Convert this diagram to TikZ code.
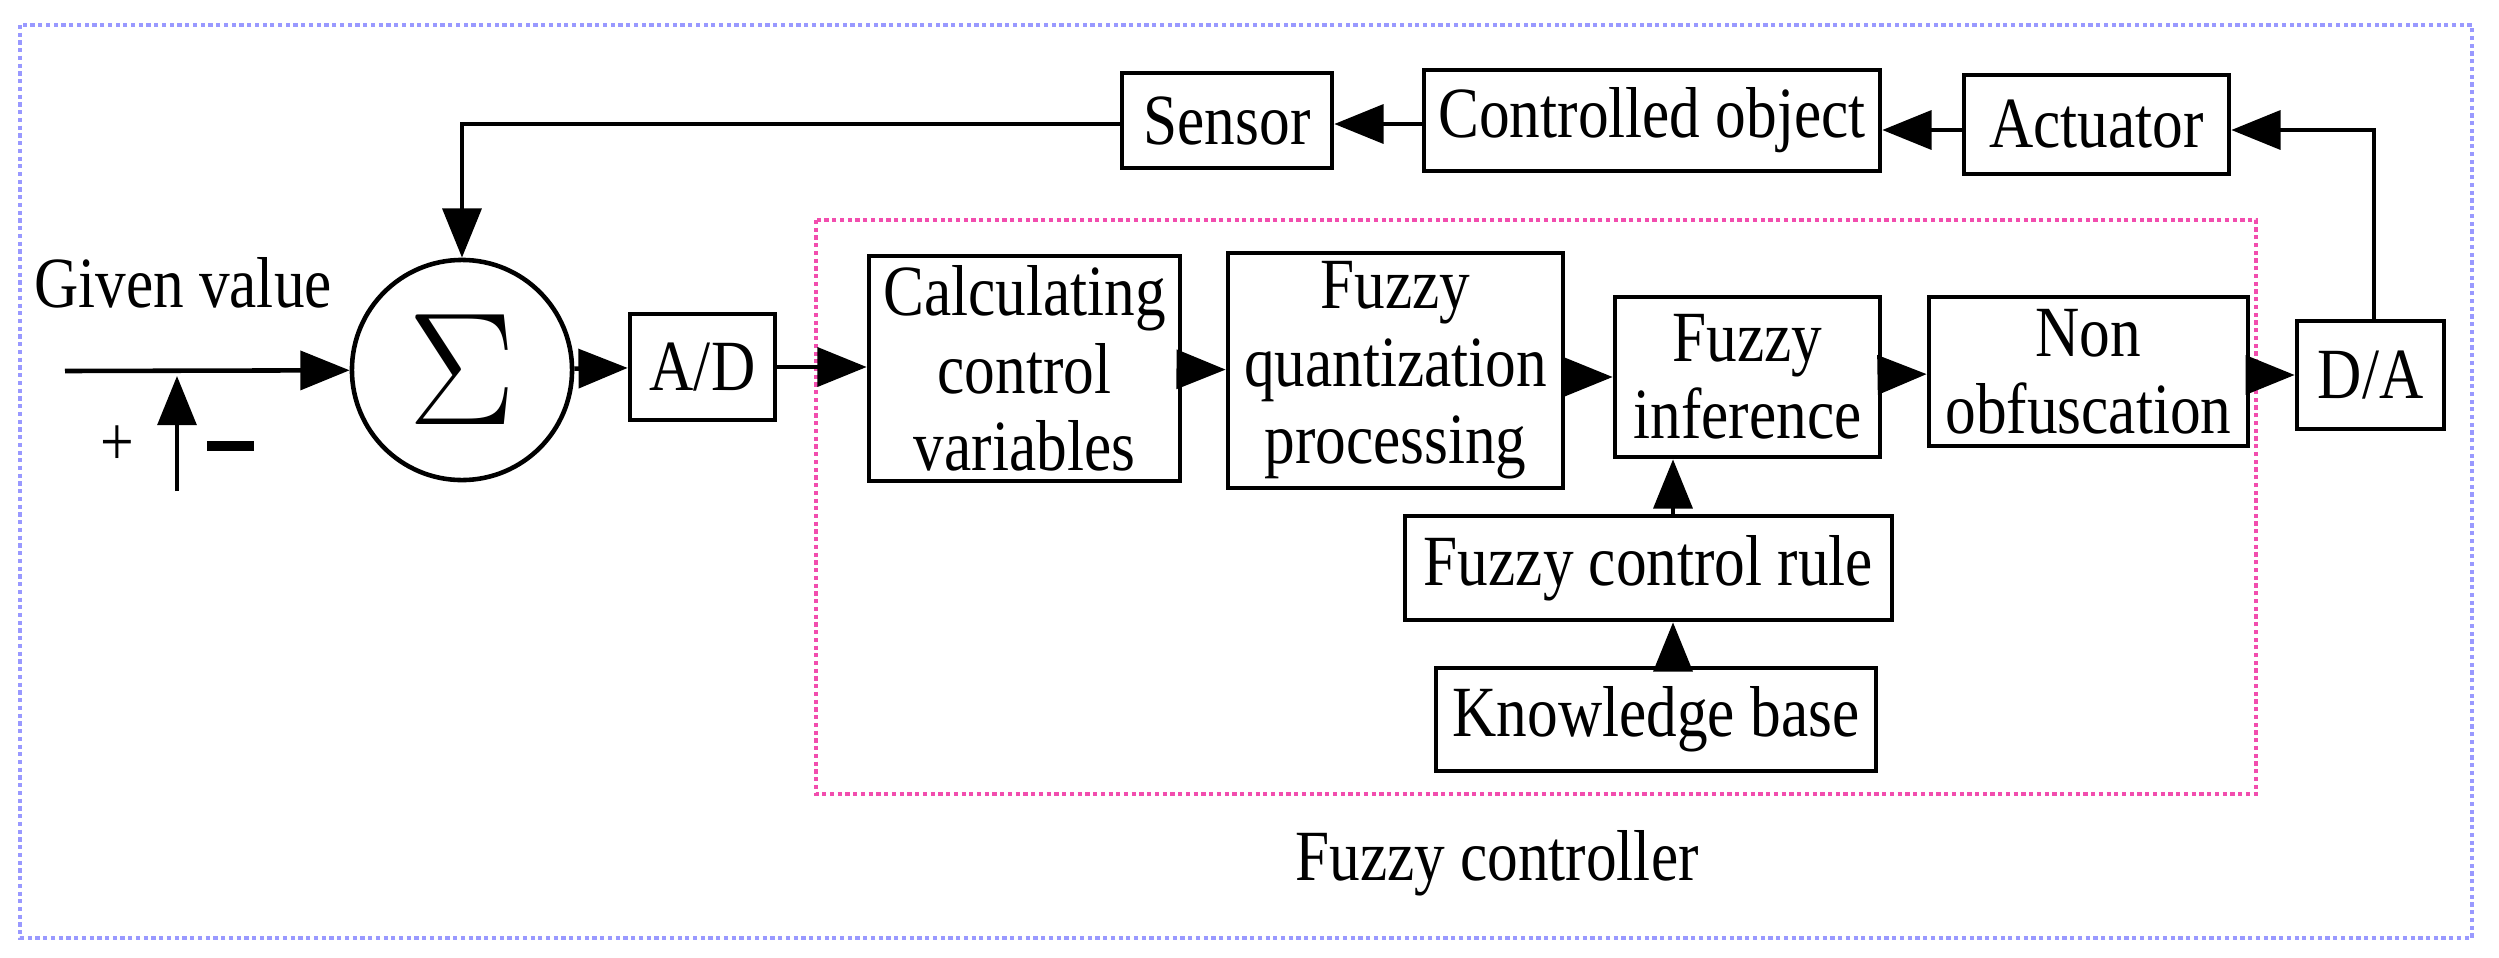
\documentclass[tikz,border=0pt]{standalone}
\usepackage{fontspec}
\usepackage{graphicx}
\setmainfont{Liberation Serif}[FakeStretch=0.85]
\usetikzlibrary{arrows.meta}
\begin{document}
\begin{tikzpicture}[x=0.01cm,y=-0.01cm,
  box/.style={draw,line width=1.3pt,rectangle,inner sep=0pt,align=center,font=\fontsize{20.5}{22}\selectfont},
  ar/.style={line width=1.3pt,-{Triangle[length=14pt,width=11pt]}},
  ln/.style={line width=1.3pt}]
\useasboundingbox (0,0) rectangle (2499,957);
\draw[blue!40,line width=1.2pt,densely dotted] (20,25) rectangle (2472,938);
\draw[magenta!70,line width=1.2pt,densely dotted] (816,220) rectangle (2256,794);
\newcommand{\bx}[6]{\node[box,minimum width={(#4-#2)*0.01cm},minimum height={(#5-#3)*0.01cm}] (#1) at ({(#2+#4)/2},{(#3+#5)/2}) {#6};}
\bx{sensor}{1122}{73}{1332}{168}{Sensor}
\bx{obj}{1424}{70}{1880}{171}{Controlled object}
\bx{act}{1964}{75}{2229}{174}{Actuator}
\bx{ad}{630}{314}{775}{420}{A/D}
\bx{calc}{869}{256}{1180}{481}{Calculating\\control\\variables}
\bx{quant}{1228}{253}{1563}{488}{Fuzzy\\quantization\\processing}
\bx{inf}{1615}{297}{1880}{457}{Fuzzy\\inference}
\bx{non}{1929}{297}{2248}{446}{Non\\obfuscation}
\bx{da}{2297}{321}{2444}{429}{D/A}
\bx{rule}{1405}{516}{1892}{620}{Fuzzy control rule}
\bx{kb}{1436}{668}{1876}{771}{Knowledge base}
\node[draw,circle,line width=1.3pt,minimum size=2.2cm,inner sep=0pt,font=\fontsize{20}{20}\selectfont] (sum) at (462,370) {\scalebox{2.2}{$\Sigma$}};
\node[font=\fontsize{20.5}{22}\selectfont] (given) at (183,283) {Given value};
\node[font=\fontsize{20}{20}\selectfont] (plus) at (117,446) {+};
\draw[line width=3pt] (207,446) -- (254,446);
\node[font=\fontsize{20.5}{22}\selectfont] (fc) at (1497,863) {Fuzzy controller};
\coordinate (in) at (65,371);
\coordinate (pm0) at (177,491);
\coordinate (pm1) at (177,376);
\draw[ar] (in) -- (sum);
\draw[ar] (pm0) -- (pm1);
\draw[ar] (sum) -- (ad);
\draw[ar] (ad) -- (calc.west |- ad);
\draw[ar] (calc) -- (quant);
\draw[ar] (quant.east |- inf) -- (inf);
\draw[ar] (inf) -- (non);
\draw[ar] (non.east |- da) -- (da);
\draw[ar] (da.north -| 2374,0) |- (act.east |- 0,130);
\draw[ar] (act.west |- 0,130) -- (obj.east |- 0,130);
\draw[ar] (obj.west |- 0,124) -- (sensor.east |- 0,124);
\draw[ar] (sensor.west |- 0,124) -| (sum.north);
\draw[ar] (rule.north -| 1673,0) -- (inf.south -| 1673,0);
\draw[ar] (kb.north -| 1673,0) -- (rule.south -| 1673,0);
\end{tikzpicture}
\end{document}
